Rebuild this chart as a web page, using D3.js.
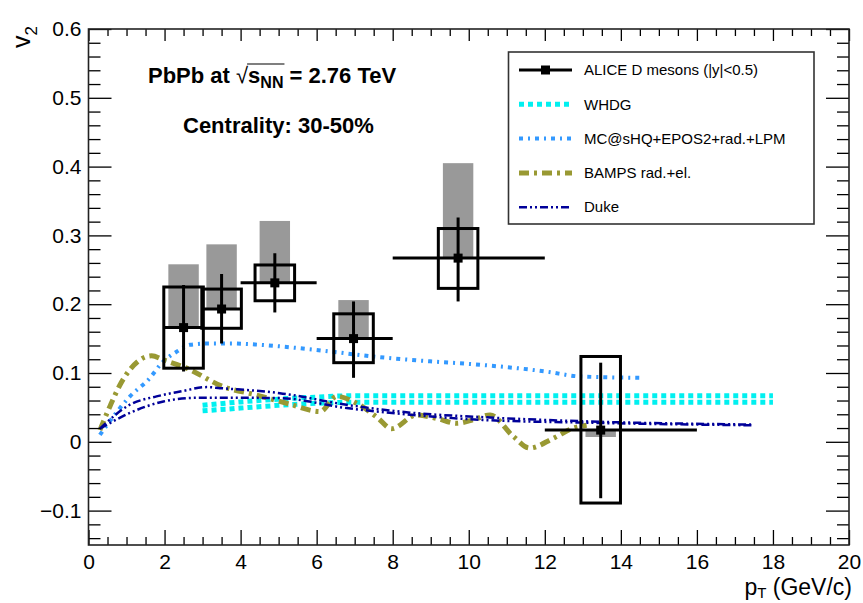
<!DOCTYPE html>
<html><head><meta charset="utf-8">
<script src="https://cdn.jsdelivr.net/npm/d3@7/dist/d3.min.js"></script>
<style>
body{margin:0;background:#fff}
svg{display:block}
text{font-family:"Liberation Sans",Arial,Helvetica,sans-serif;fill:#000}
</style>
</head><body>
<svg id="c" width="863" height="603"></svg>
<script>
// ---------------- data ----------------
const ptCenter = [2.5, 3.5, 4.9, 6.97, 9.72, 13.47];
const ptLow    = [2, 3, 4, 6, 8, 12];
const ptHigh   = [3, 4, 6, 8, 12, 16];
const v2       = [0.166, 0.193, 0.231, 0.150, 0.267, 0.017];
const statLow  = [0.102, 0.143, 0.188, 0.093, 0.204, -0.082];
const statHigh = [0.228, 0.244, 0.274, 0.204, 0.326, 0.115];
const sysLow   = [0.107, 0.165, 0.205, 0.115, 0.223, -0.089];
const sysHigh  = [0.225, 0.222, 0.257, 0.186, 0.310, 0.124];
const fdLow    = [0.166, 0.193, 0.231, 0.150, 0.267, 0.007];
const fdHigh   = [0.258, 0.287, 0.321, 0.206, 0.405, 0.017];

const whdgPt   = [3.0, 4.0, 5.0, 6.0, 7.0, 10.0, 14.0, 18.0];
const whdgHigh = [0.053, 0.058, 0.062, 0.065, 0.067, 0.067, 0.067, 0.067];
const whdgLow  = [0.045, 0.049, 0.053, 0.056, 0.0575, 0.0575, 0.0575, 0.0575];

const mcPt = [0.3, 1.09, 1.62, 1.92, 2.32, 2.67, 3.2, 3.72, 4.5, 5.91, 7.66, 8.98, 10.29, 12.05, 12.92, 14.59];
const mcV2 = [0.010, 0.066, 0.093, 0.114, 0.131, 0.141, 0.143, 0.143, 0.141, 0.134, 0.123, 0.117, 0.112, 0.102, 0.095, 0.093];

const bampsPt = [0.3, 0.56, 0.83, 1.09, 1.35, 1.66, 1.97, 2.58, 3.55, 4.42, 5.21, 6.09, 6.53, 7.05, 7.6, 7.97, 8.63, 9.16, 9.68, 10.12, 10.56, 11.17, 11.6, 12.22, 12.75, 13.1];
const bampsV2 = [0.017, 0.051, 0.083, 0.105, 0.119, 0.125, 0.119, 0.107, 0.080, 0.068, 0.056, 0.044, 0.066, 0.056, 0.035, 0.019, 0.039, 0.034, 0.027, 0.032, 0.039, 0.008, -0.009, 0.005, 0.020, 0.024];

const dukeHighPt = [0.3, 1.09, 1.79, 2.41, 3.11, 3.46, 5.03, 6.79, 8.54, 10.29, 12.92, 17.48];
const dukeHighV2 = [0.019, 0.054, 0.066, 0.073, 0.0795, 0.078, 0.0707, 0.0538, 0.042, 0.036, 0.030, 0.025];
const dukeLowPt  = [0.3, 1.09, 1.97, 2.85, 3.72, 5.03, 6.79, 8.54, 10.29, 12.92, 17.48];
const dukeLowV2  = [0.019, 0.042, 0.0586, 0.064, 0.064, 0.0635, 0.049, 0.039, 0.032, 0.028, 0.024];

const yMajor = [-0.1, 0, 0.1, 0.2, 0.3, 0.4, 0.5, 0.6];
const xMajor = [0, 2, 4, 6, 8, 10, 12, 14, 16, 18, 20];
const legendLabels = ["ALICE D mesons (|y|<0.5)", "WHDG", "MC@sHQ+EPOS2+rad.+LPM", "BAMPS rad.+el.", "Duke"];

// ---------------- layout ----------------
const L = 88.5, R = 849, T = 29, B = 545;
const x = d3.scaleLinear().domain([0, 20]).range([L, R]);
const y = d3.scaleLinear().domain([-0.15, 0.6]).range([B, T]);
const svg = d3.select("#c");

const sysHalf = 0.52, fdHalf = 0.4;
const col = {whdg:"#00f0f0", mc:"#3399ff", bamps:"#999933", duke:"#000099"};
const sty = {
  whdg:{w:5, d:"5,4"},
  mc:{w:4, d:"4,5,2,5"},
  bamps:{w:5, d:"10,5,3,5"},
  duke:{w:2.5, d:"8,3,2,3,2,3"}
};

const yMinor = d3.range(-0.14, 0.6, 0.02).map(v => +v.toFixed(2)).filter(v => !yMajor.some(m => Math.abs(m - v) < 1e-6));
const xMinor = d3.range(0, 20.01, 0.5).filter(v => !xMajor.includes(v));
const fmtY = v => v === 0 ? "0" : (v < 0 ? "\u2212" + d3.format(".1f")(-v) : d3.format(".1f")(v));

// plot clip
svg.append("clipPath").attr("id","clip").append("rect").attr("x",L).attr("y",T).attr("width",R-L).attr("height",B-T);
const plot = svg.append("g").attr("clip-path","url(#clip)");

// feed-down grey boxes
plot.selectAll("rect.fd").data(ptCenter).join("rect")
  .attr("x", (d)=> x(d - fdHalf)).attr("width", (d)=> x(d + fdHalf) - x(d - fdHalf))
  .attr("y", (d,i)=> y(fdHigh[i])).attr("height", (d,i)=> y(fdLow[i]) - y(fdHigh[i]))
  .attr("fill","#999");

// model curves
function curve(px, py, key){
  plot.append("path").datum(px.map((p,i)=>[p,py[i]]))
    .attr("d", d3.line().x(d=>x(d[0])).y(d=>y(d[1])).curve(d3.curveMonotoneX))
    .attr("fill","none").attr("stroke",col[key]).attr("stroke-width",sty[key].w)
    .attr("stroke-dasharray",sty[key].d);
}
curve(whdgPt, whdgHigh, "whdg");
curve(whdgPt, whdgLow, "whdg");
curve(mcPt, mcV2, "mc");
curve(bampsPt, bampsV2, "bamps");
curve(dukeHighPt, dukeHighV2, "duke");
curve(dukeLowPt, dukeLowV2, "duke");

// systematic boxes
plot.selectAll("rect.sys").data(ptCenter).join("rect")
  .attr("x", d=> x(d - sysHalf)).attr("width", d=> x(d + sysHalf) - x(d - sysHalf))
  .attr("y", (d,i)=> y(sysHigh[i])).attr("height", (d,i)=> y(sysLow[i]) - y(sysHigh[i]))
  .attr("fill","none").attr("stroke","#000").attr("stroke-width",3);

// stat error bars
plot.selectAll("line.ex").data(ptCenter).join("line")
  .attr("x1",(d,i)=>x(ptLow[i])).attr("x2",(d,i)=>x(ptHigh[i]))
  .attr("y1",(d,i)=>y(v2[i])).attr("y2",(d,i)=>y(v2[i]))
  .attr("stroke","#000").attr("stroke-width",3);
plot.selectAll("line.ey").data(ptCenter).join("line")
  .attr("x1",d=>x(d)).attr("x2",d=>x(d))
  .attr("y1",(d,i)=>y(statLow[i])).attr("y2",(d,i)=>y(statHigh[i]))
  .attr("stroke","#000").attr("stroke-width",3);
plot.selectAll("rect.mk").data(ptCenter).join("rect")
  .attr("x",d=>x(d)-4.5).attr("y",(d,i)=>y(v2[i])-4.5).attr("width",9).attr("height",9)
  .attr("fill","#000");

// axes
function axisG(gen, tr){
  const g = svg.append("g").attr("transform", tr).call(gen);
  g.select(".domain").remove();
  g.selectAll("line").attr("stroke","#000").attr("stroke-width",1.3);
  g.selectAll("text").style("font-size","21px").style("font-family",'"Liberation Sans",Arial,sans-serif');
  return g;
}
axisG(d3.axisLeft(y).tickValues(yMajor).tickSize(-23).tickPadding(7).tickFormat(fmtY), `translate(${L},0)`);
axisG(d3.axisLeft(y).tickValues(yMinor).tickSize(-12).tickFormat(""), `translate(${L},0)`);
axisG(d3.axisRight(y).tickValues(yMajor).tickSize(-23).tickFormat(""), `translate(${R},0)`);
axisG(d3.axisRight(y).tickValues(yMinor).tickSize(-12).tickFormat(""), `translate(${R},0)`);
axisG(d3.axisBottom(x).tickValues(xMajor).tickSize(-15).tickPadding(9).tickFormat(d3.format("d")), `translate(0,${B})`);
axisG(d3.axisBottom(x).tickValues(xMinor).tickSize(-8).tickFormat(""), `translate(0,${B})`);
axisG(d3.axisTop(x).tickValues(xMajor).tickSize(-12).tickFormat(""), `translate(0,${T})`);
axisG(d3.axisTop(x).tickValues(xMinor).tickSize(-7).tickFormat(""), `translate(0,${T})`);

// frame
svg.append("rect").attr("x",L).attr("y",T).attr("width",R-L).attr("height",B-T)
  .attr("fill","none").attr("stroke","#222").attr("stroke-width",1.6);

// axis titles
const xt = svg.append("text").attr("x",R+3).attr("y",595).attr("text-anchor","end").style("font-size","23px");
xt.append("tspan").text("p");
xt.append("tspan").attr("dy",3).style("font-size","15px").text("T");
xt.append("tspan").attr("dy",-3).text(" (GeV/c)");

const yt = svg.append("text").attr("transform","translate(30,26) rotate(-90)").attr("text-anchor","end").style("font-size","25px");
yt.append("tspan").text("v");
yt.append("tspan").attr("dy",7).style("font-size","17px").text("2");

// header texts
const t1 = svg.append("text").attr("x",148).attr("y",83).style("font-size","22px").style("font-weight","bold");
t1.append("tspan").text("PbPb at ");
t1.append("tspan").style("font-weight","normal").text("\u221A");
t1.append("tspan").text("s");
t1.append("tspan").attr("dy",5).style("font-size","16px").text("NN");
t1.append("tspan").attr("dy",-5).text(" = 2.76 TeV");
const n1 = t1.node();
const sx0 = n1.getStartPositionOfChar(9).x, sx1 = n1.getEndPositionOfChar(11).x;
svg.append("line").attr("x1",sx0-1).attr("x2",sx1+1).attr("y1",64).attr("y2",64).attr("stroke","#000").attr("stroke-width",1.2);

svg.append("text").attr("x",183).attr("y",133).style("font-size","22px").style("font-weight","bold").text("Centrality: 30-50%");

// legend
const lg = svg.append("g");
const lx = 508.5, ly = 52, lw = 305.5, lh = 172;
lg.append("rect").attr("x",lx).attr("y",ly).attr("width",lw).attr("height",lh)
  .attr("fill","#fff").attr("stroke","#333").attr("stroke-width",1.6);
const rowY = i => ly + 18 + i * 34.3;
const keys = [null, "whdg", "mc", "bamps", "duke"];
keys.forEach((k,i)=>{
  const yy = rowY(i);
  if(k===null){
    lg.append("line").attr("x1",519).attr("x2",572).attr("y1",yy).attr("y2",yy).attr("stroke","#000").attr("stroke-width",3);
    lg.append("rect").attr("x",545.5-4.5).attr("y",yy-4.5).attr("width",9).attr("height",9).attr("fill","#000");
  } else {
    lg.append("line").attr("x1",519).attr("x2",572).attr("y1",yy).attr("y2",yy)
      .attr("stroke",col[k]).attr("stroke-width",sty[k].w).attr("stroke-dasharray",sty[k].d);
  }
  lg.append("text").attr("x",584).attr("y",yy).attr("dy","0.35em").style("font-size","15px").text(legendLabels[i]);
});
</script>
</body></html>
